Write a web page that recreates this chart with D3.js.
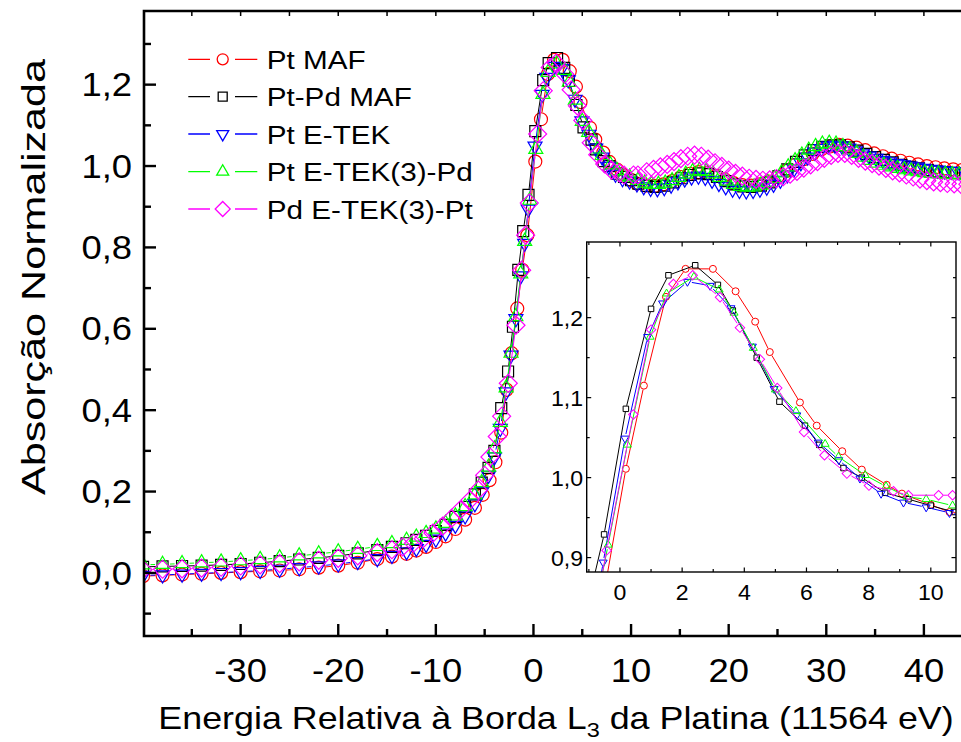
<!DOCTYPE html>
<html>
<head>
<meta charset="utf-8">
<script src="https://cdn.jsdelivr.net/npm/d3@7"></script>
<style>
  html, body { margin: 0; padding: 0; background: #fff; }
  svg { display: block; overflow: hidden; font-family: "Liberation Sans", Arial, Helvetica, sans-serif; }
</style>
</head>
<body>
<svg id="chart" width="961" height="742"></svg>
<script>
// ---- Normalised Pt L3-edge XANES spectra: [energy relative to edge (eV), normalised absorption] ----
const seriesNames = ["Pt MAF", "Pt-Pd MAF", "Pt E-TEK", "Pt E-TEK(3)-Pd", "Pd E-TEK(3)-Pt"];

const ptMAF = [
  [-40,-0.008],[-38,-0.006],[-36,-0.004],[-34,-0.002],[-32,0.0],[-30,0.002],[-28,0.004],[-26,0.006],
  [-24,0.009],[-22,0.013],[-20,0.018],[-18,0.025],[-16,0.034],[-14.5,0.04],[-13,0.047],[-12,0.055],
  [-11,0.064],[-10,0.076],[-9,0.09],[-8,0.108],[-7,0.131],[-6,0.16],[-5.2,0.192],[-4.5,0.228],
  [-3.9,0.272],[-3.3,0.345],[-2.75,0.45],[-2.24,0.54],[-1.66,0.65],[-1.15,0.745],[-0.63,0.83],
  [0.19,1.011],[0.77,1.115],[1.48,1.226],[2.11,1.261],[2.99,1.261],[3.72,1.233],[4.35,1.195],
  [4.82,1.157],[5.79,1.094],[6.33,1.065],[7.15,1.033],[7.78,1.01],[8.58,0.991],[9.07,0.98],
  [10.0,0.966],[10.6,0.957],[11.5,0.952],[12.4,0.951],[13.3,0.955],[14.2,0.963],[15.1,0.973],
  [16.0,0.981],[16.9,0.985],[17.8,0.983],[18.7,0.976],[19.6,0.967],[20.5,0.958],[21.4,0.953],
  [22.3,0.952],[23.2,0.955],[24.1,0.962],[25.0,0.973],[25.9,0.988],[26.8,1.003],[27.7,1.017],
  [28.6,1.03],[29.5,1.041],[30.4,1.048],[31.3,1.052],[32.2,1.05],[33.1,1.045],[34.0,1.039],
  [34.9,1.031],[35.8,1.024],[36.7,1.018],[37.6,1.013],[38.5,1.008],[39.4,1.004],[40.3,1.0],
  [41.2,0.997],[42.1,0.994],[43.0,0.992],[43.9,0.99],[44.8,0.988]
];

const ptPdMAF = [
  [-40,0.015],[-38,0.016],[-36,0.017],[-34,0.018],[-32,0.02],[-30,0.022],[-28,0.025],[-26,0.029],
  [-24,0.033],[-22,0.037],[-20,0.042],[-18,0.048],[-16,0.056],[-14.5,0.064],[-13,0.073],[-12,0.081],
  [-11,0.091],[-10,0.103],[-9,0.118],[-8,0.138],[-7,0.162],[-6,0.193],[-5.3,0.222],[-4.6,0.258],
  [-4.0,0.3],[-3.3,0.405],[-2.6,0.495],[-2.1,0.605],[-1.55,0.745],[-1.05,0.84],[-0.51,0.929],
  [0.19,1.086],[1.0,1.211],[1.56,1.253],[2.42,1.2655],[3.15,1.241],[3.63,1.209],[4.4,1.15],
  [5.13,1.095],[5.95,1.065],[6.41,1.041],[7.19,1.012],[7.78,1.0],[8.53,0.981],[9.28,0.973],
  [10.0,0.965],[10.75,0.957],[11.6,0.951],[12.5,0.949],[13.4,0.952],[14.3,0.96],[15.2,0.97],
  [16.1,0.978],[17.0,0.982],[17.9,0.98],[18.8,0.973],[19.7,0.963],[20.6,0.955],[21.5,0.95],
  [22.4,0.949],[23.3,0.952],[24.2,0.96],[25.1,0.975],[26.0,0.992],[26.9,1.01],[27.8,1.026],
  [28.7,1.039],[29.6,1.047],[30.5,1.051],[31.4,1.051],[32.3,1.046],[33.2,1.038],[34.1,1.03],
  [35.0,1.022],[35.9,1.015],[36.8,1.009],[37.7,1.003],[38.6,0.998],[39.5,0.994],[40.4,0.99],
  [41.3,0.987],[42.2,0.985],[43.1,0.983],[44.0,0.982],[44.9,0.98]
];

const ptETEK = [
  [-40,-0.006],[-38,-0.005],[-36,-0.003],[-34,-0.001],[-32,0.001],[-30,0.003],[-28,0.006],[-26,0.009],
  [-24,0.013],[-22,0.017],[-20,0.022],[-18,0.028],[-16,0.035],[-14.5,0.043],[-13,0.052],[-12,0.06],
  [-11,0.07],[-10,0.083],[-9,0.098],[-8,0.117],[-7,0.14],[-6,0.17],[-5.3,0.2],[-4.6,0.24],
  [-4.0,0.285],[-3.4,0.355],[-2.8,0.445],[-2.3,0.535],[-1.8,0.625],[-1.3,0.73],[-0.9,0.81],
  [-0.54,0.894],[0.16,1.049],[0.89,1.176],[1.37,1.218],[2.17,1.245],[2.9,1.24],[3.57,1.212],
  [4.26,1.164],[4.96,1.111],[5.69,1.078],[6.38,1.044],[7.04,1.022],[7.72,0.999],[8.4,0.98],
  [9.12,0.969],[9.85,0.963],[10.6,0.956],[11.3,0.949],[12.0,0.945],[12.7,0.944],[13.4,0.947],
  [14.1,0.953],[14.8,0.961],[15.5,0.968],[16.2,0.973],[16.9,0.975],[17.6,0.972],[18.3,0.965],
  [19.0,0.957],[19.7,0.949],[20.4,0.943],[21.1,0.94],[21.8,0.939],[22.5,0.94],[23.2,0.943],
  [23.9,0.948],[24.6,0.955],[25.3,0.965],[26.0,0.978],[26.7,0.993],[27.4,1.008],[28.1,1.022],
  [28.8,1.034],[29.5,1.043],[30.2,1.049],[30.9,1.051],[31.6,1.049],[32.3,1.044],[33.0,1.037],
  [33.7,1.03],[34.4,1.024],[35.1,1.019],[35.8,1.014],[36.5,1.01],[37.2,1.006],[37.9,1.003],
  [38.6,1.0],[39.3,0.997],[40.0,0.994],[40.7,0.992],[41.4,0.99],[42.1,0.988],[42.8,0.987],
  [43.5,0.986],[44.2,0.985],[44.9,0.984]
];

const ptETEK3Pd = [
  [-40,0.02],[-38,0.021],[-36,0.023],[-34,0.025],[-32,0.027],[-30,0.03],[-28,0.033],[-26,0.037],
  [-24,0.042],[-22,0.047],[-20,0.052],[-18,0.058],[-16,0.065],[-14.5,0.072],[-13,0.08],[-12,0.088],
  [-11,0.097],[-10,0.108],[-9,0.122],[-8,0.14],[-7,0.163],[-6,0.192],[-5.3,0.222],[-4.6,0.26],
  [-4.0,0.305],[-3.4,0.37],[-2.8,0.455],[-2.3,0.54],[-1.8,0.63],[-1.3,0.735],[-0.9,0.815],
  [-0.38,0.916],[0.24,1.041],[0.97,1.176],[1.5,1.23],[2.38,1.251],[3.19,1.235],[3.67,1.206],
  [4.29,1.162],[5.0,1.11],[5.66,1.083],[6.6,1.042],[7.03,1.026],[7.89,1.003],[8.56,0.989],
  [9.23,0.976],[9.85,0.973],[10.7,0.965],[11.4,0.958],[12.1,0.955],[12.8,0.955],[13.5,0.958],
  [14.2,0.964],[14.9,0.972],[15.6,0.98],[16.3,0.986],[17.0,0.989],[17.7,0.987],[18.4,0.981],
  [19.1,0.972],[19.8,0.963],[20.5,0.955],[21.2,0.95],[21.9,0.948],[22.6,0.949],[23.3,0.953],
  [24.0,0.96],[24.7,0.97],[25.4,0.983],[26.1,0.998],[26.8,1.013],[27.5,1.027],[28.2,1.039],
  [28.9,1.048],[29.6,1.054],[30.3,1.056],[31.0,1.054],[31.7,1.048],[32.4,1.04],[33.1,1.031],
  [33.8,1.022],[34.5,1.014],[35.2,1.007],[35.9,1.002],[36.6,0.998],[37.3,0.994],[38.0,0.991],
  [38.7,0.988],[39.4,0.986],[40.1,0.984],[40.8,0.982],[41.5,0.981],[42.2,0.98],[42.9,0.979],
  [43.6,0.978],[44.3,0.977]
];

const pdETEK3Pt = [
  [-40,0.008],[-38,0.009],[-36,0.01],[-34,0.012],[-32,0.014],[-30,0.017],[-28,0.02],[-26,0.023],
  [-24,0.027],[-22,0.031],[-20,0.036],[-18,0.042],[-16,0.05],[-14.5,0.057],[-13.4,0.064],[-12.3,0.073],
  [-11.3,0.084],[-10.3,0.098],[-9.3,0.115],[-8.4,0.134],[-7.5,0.155],[-6.5,0.179],[-5.65,0.204],
  [-5.0,0.24],[-4.46,0.285],[-3.71,0.335],[-3.26,0.385],[-2.58,0.466],[-1.79,0.609],[-1.21,0.744],
  [-0.8,0.83],[-0.43,0.909],[0.43,1.079],[1.0,1.185],[1.72,1.242],[2.34,1.253],[3.22,1.2255],
  [3.86,1.1875],[4.5,1.148],[5.06,1.112],[5.92,1.057],[6.58,1.028],[7.3,1.005],[8.01,0.99],
  [8.8,0.983],[9.28,0.978],[10.25,0.978],[10.7,0.978],[11.6,0.986],[12.3,0.992],[13.0,0.998],
  [13.7,1.004],[14.4,1.011],[15.1,1.018],[15.8,1.024],[16.5,1.027],[17.2,1.024],[17.9,1.017],
  [18.6,1.008],[19.3,0.999],[20.0,0.99],[20.7,0.982],[21.4,0.975],[22.1,0.97],[22.8,0.967],
  [23.5,0.965],[24.2,0.966],[24.9,0.969],[25.6,0.974],[26.3,0.98],[27.0,0.987],[27.7,0.995],
  [28.4,1.003],[29.1,1.011],[29.8,1.019],[30.5,1.026],[31.2,1.031],[31.9,1.031],[32.6,1.026],
  [33.3,1.019],[34.0,1.012],[34.7,1.006],[35.4,1.0],[36.1,0.994],[36.8,0.988],[37.5,0.983],
  [38.2,0.978],[38.9,0.973],[39.6,0.968],[40.3,0.964],[41.0,0.961],[41.7,0.959],[42.4,0.957],
  [43.1,0.956],[43.8,0.955],[44.5,0.955]
];

const allSeries = [ptMAF, ptPdMAF, ptETEK, ptETEK3Pd, pdETEK3Pt];

// tick values and labels
const xMajorTicks = [-30, -20, -10, 0, 10, 20, 30, 40];
const xMinorTicks = [-35, -25, -15, -5, 5, 15, 25, 35, 45];
const yMajorTicks = [0.0, 0.2, 0.4, 0.6, 0.8, 1.0, 1.2];
const yMinorTicks = [-0.1, 0.1, 0.3, 0.5, 0.7, 0.9, 1.1, 1.3];
const insetXMajor = [0, 2, 4, 6, 8, 10];
const insetXMinor = [-1, 1, 3, 5, 7, 9];
const insetYMajor = [0.9, 1.0, 1.1, 1.2];
const insetYMinor = [0.95, 1.05, 1.15, 1.25];

const xTitleParts = ["Energia Relativa à Borda L", "3", " da Platina (11564 eV)"];
const yTitle = "Absorção Normalizada";

// ---- styles ----
const seriesStyle = [
  { color: "#ff0000", shape: "circle" },
  { color: "#000000", shape: "square" },
  { color: "#0000ff", shape: "triDown" },
  { color: "#00ff00", shape: "triUp" },
  { color: "#ff00ff", shape: "diamond" }
];
const markerSize = {      // nominal marker width in px: main plot / inset / legend
  main:   { circle: 13, square: 11, triDown: 14, triUp: 14, diamond: 18 },
  inset:  { circle: 7,  square: 5.5, triDown: 8, triUp: 8, diamond: 9.5 },
  legend: { circle: 11, square: 9, triDown: 12, triUp: 12, diamond: 15 }
};
const FONT = "'Liberation Sans', Arial, Helvetica, sans-serif";
const SX = 1.12;   // horizontal text stretch

const fmt = d3.formatLocale({ decimal: ",", thousands: ".", grouping: [3], currency: ["", ""], minus: "-" });
const fmtY = fmt.format(".1f");
const fmtX = fmt.format("d");

const svg = d3.select("#chart");

// ---- geometry ----
const M = { left: 144, right: 972.7, top: 11, bottom: 636 };
const x = d3.scaleLinear().domain([-39.9, 45]).range([M.left, M.right]);
const y = d3.scaleLinear().domain([-0.155, 1.381]).range([M.bottom, M.top]);

const I = { left: 586.7, right: 956, top: 242, bottom: 572 };
const xi = d3.scaleLinear().domain([-1.07, 10.81]).range([I.left, I.right]);
const yi = d3.scaleLinear().domain([0.882, 1.2946]).range([I.bottom, I.top]);

const defs = svg.append("defs");
defs.append("clipPath").attr("id", "clipMain").append("rect")
  .attr("x", M.left).attr("y", M.top).attr("width", M.right - M.left).attr("height", M.bottom - M.top);
defs.append("clipPath").attr("id", "clipInset").append("rect")
  .attr("x", I.left).attr("y", I.top).attr("width", I.right - I.left).attr("height", I.bottom - I.top);

// ---- helpers ----
function symbolPath(shape, w) {
  if (shape === "circle") return d3.symbol(d3.symbolCircle, Math.PI * (w / 2) * (w / 2))();
  if (shape === "square") return d3.symbol(d3.symbolSquare, w * w)();
  if (shape === "diamond") return d3.symbol(d3.symbolSquare, w * w / 2)();
  return d3.symbol(d3.symbolTriangle, Math.sqrt(3) / 4 * w * w)();
}
function symbolRot(shape) {
  if (shape === "diamond") return " rotate(45)";
  if (shape === "triDown") return " rotate(180)";
  return "";
}
function gapLine(pts, gap) {
  let p = "";
  for (let i = 1; i < pts.length; i++) {
    const [x0, y0] = pts[i - 1], [x1, y1] = pts[i];
    const dx = x1 - x0, dy = y1 - y0, L = Math.hypot(dx, dy);
    if (L > 2 * gap + 0.5) {
      const ux = dx / L, uy = dy / L;
      p += `M${x0 + ux * gap},${y0 + uy * gap}L${x1 - ux * gap},${y1 - uy * gap}`;
    }
  }
  return p;
}
function drawSeries(layer, data, st, sx, sy, sizes, sw) {
  const w = sizes[st.shape];
  const pts = data.map(d => [sx(d[0]), sy(d[1])]);
  layer.append("path").attr("d", gapLine(pts, w / 2 + 0.5))
    .attr("fill", "none").attr("stroke", st.color).attr("stroke-width", 1);
  layer.append("g").selectAll("path").data(pts).join("path")
    .attr("d", symbolPath(st.shape, w))
    .attr("transform", d => `translate(${d[0]},${d[1]})${symbolRot(st.shape)}`)
    .attr("fill", "none").attr("stroke", st.color).attr("stroke-width", sw);
}
function addText(parent, tx, ty, str, size, anchor, sx) {
  return parent.append("text")
    .attr("transform", `translate(${tx},${ty}) scale(${sx},1)`)
    .attr("text-anchor", anchor)
    .attr("font-family", FONT).attr("font-size", size).attr("fill", "#000")
    .text(str);
}

// ---- main plot data ----
const mainLayer = svg.append("g").attr("clip-path", "url(#clipMain)");
allSeries.forEach((s, i) => drawSeries(mainLayer, s, seriesStyle[i], x, y, markerSize.main, 1.2));

// ---- main frame and ticks ----
const axes = svg.append("g").attr("stroke", "#000").attr("fill", "none");
axes.append("path")
  .attr("d", `M${M.right},${M.top}H${M.left}V${M.bottom}H${M.right}`)
  .attr("stroke-width", 2.6);
const tickG = axes.append("g").attr("stroke-width", 2.4);
yMajorTicks.forEach(v => tickG.append("line").attr("x1", M.left).attr("x2", M.left + 12).attr("y1", y(v)).attr("y2", y(v)));
yMinorTicks.forEach(v => tickG.append("line").attr("x1", M.left).attr("x2", M.left + 7).attr("y1", y(v)).attr("y2", y(v)));
xMajorTicks.forEach(v => tickG.append("line").attr("x1", x(v)).attr("x2", x(v)).attr("y1", M.bottom).attr("y2", M.bottom - 12));
xMinorTicks.forEach(v => tickG.append("line").attr("x1", x(v)).attr("x2", x(v)).attr("y1", M.bottom).attr("y2", M.bottom - 7));
const topTicks = axes.append("g").attr("stroke-width", 1.5);
xMajorTicks.concat(xMinorTicks).forEach(v => topTicks.append("line").attr("x1", x(v)).attr("x2", x(v)).attr("y1", M.top).attr("y2", M.top + 5));

// tick labels
const labels = svg.append("g");
yMajorTicks.forEach(v => addText(labels, 132, y(v), fmtY(v), 32.5, "end", SX).attr("dy", "0.36em"));
xMajorTicks.forEach(v => addText(labels, x(v), 682, fmtX(v), 32.5, "middle", SX));

// axis titles
const xt = labels.append("text")
  .attr("transform", `translate(556,729) scale(${SX},1)`)
  .attr("text-anchor", "middle").attr("font-family", FONT).attr("font-size", 32).attr("fill", "#000");
xt.append("tspan").text(xTitleParts[0]);
xt.append("tspan").attr("font-size", 21).attr("dy", 8).text(xTitleParts[1]);
xt.append("tspan").attr("dy", -8).text(xTitleParts[2]);

labels.append("text")
  .attr("transform", "translate(45,277) rotate(-90)")
  .attr("text-anchor", "middle").attr("font-family", FONT).attr("font-size", 34).attr("fill", "#000")
  .attr("textLength", 436).attr("lengthAdjust", "spacingAndGlyphs")
  .text(yTitle);

// ---- legend ----
const legend = svg.append("g");
const legendRowY = [59.3, 96.7, 134, 171.7, 209];
seriesNames.forEach((name, i) => {
  const st = seriesStyle[i], yy = legendRowY[i];
  legend.append("path").attr("d", `M188.3,${yy}H210M235,${yy}H257.3`)
    .attr("stroke", st.color).attr("stroke-width", 1.3).attr("fill", "none");
  legend.append("path").attr("d", symbolPath(st.shape, markerSize.legend[st.shape]))
    .attr("transform", `translate(222.7,${yy})${symbolRot(st.shape)}`)
    .attr("fill", "none").attr("stroke", st.color).attr("stroke-width", 1.3);
  addText(legend, 266.7, yy, name, 26.5, "start", SX).attr("dy", "0.36em");
});

// ---- inset: zoom on the white line ----
const inset = svg.append("g");
inset.append("rect").attr("x", I.left).attr("y", I.top)
  .attr("width", I.right - I.left).attr("height", I.bottom - I.top).attr("fill", "#fff");
const insetData = inset.append("g").attr("clip-path", "url(#clipInset)");
allSeries.forEach((s, i) => drawSeries(insetData, s, seriesStyle[i], xi, yi, markerSize.inset, 1));

const insetAxes = inset.append("g").attr("stroke", "#000").attr("fill", "none").attr("stroke-width", 1.2);
insetAxes.append("rect").attr("x", I.left).attr("y", I.top)
  .attr("width", I.right - I.left).attr("height", I.bottom - I.top).attr("stroke-width", 1.4);
insetYMajor.concat(insetYMinor).forEach(v => {
  const len = insetYMajor.includes(v) ? 4.5 : 3;
  insetAxes.append("line").attr("x1", I.left).attr("x2", I.left + len).attr("y1", yi(v)).attr("y2", yi(v));
  insetAxes.append("line").attr("x1", I.right).attr("x2", I.right - len).attr("y1", yi(v)).attr("y2", yi(v));
});
insetXMajor.concat(insetXMinor).forEach(v => {
  const len = insetXMajor.includes(v) ? 4.5 : 3;
  insetAxes.append("line").attr("x1", xi(v)).attr("x2", xi(v)).attr("y1", I.bottom).attr("y2", I.bottom - len);
  insetAxes.append("line").attr("x1", xi(v)).attr("x2", xi(v)).attr("y1", I.top).attr("y2", I.top + len);
});
insetYMajor.forEach(v => addText(inset, 583, yi(v), fmtY(v), 22, "end", 1.05).attr("dy", "0.36em"));
insetXMajor.forEach(v => addText(inset, xi(v), 600, fmtX(v), 22, "middle", 1.05));
</script>
</body>
</html>
